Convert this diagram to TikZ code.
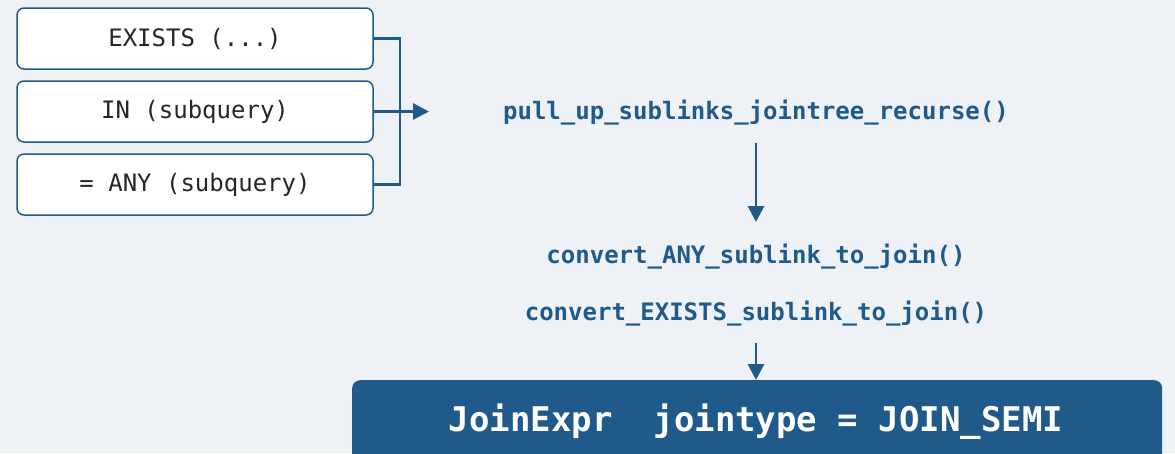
\documentclass[tikz,border=0pt]{standalone}
\usepackage{fontspec}
\setmonofont{DejaVu Sans Mono}
\usetikzlibrary{arrows.meta}
\definecolor{bg}{HTML}{EEF2F6}
\definecolor{navy}{HTML}{1F5A8A}
\tikzset{
  srcbox/.style={draw=navy, line width=1.5pt, fill=white, rounded corners=7pt,
    minimum width=356pt, minimum height=61pt, inner sep=0pt,
    font=\ttfamily\fontsize{24}{28}\selectfont, text=black!85},
  fnlabel/.style={font=\ttfamily\bfseries\fontsize{24}{28}\selectfont, text=navy, inner sep=0pt},
  conn/.style={draw=navy, line width=2.8pt},
  arr/.style={conn, -{Triangle[length=16pt, width=16pt]}},
  result/.style={fill=navy, rounded corners=8pt, minimum width=810pt, minimum height=100pt,
    inner sep=0pt, anchor=north west}
}
\begin{document}
\begin{tikzpicture}[x=1pt, y=-1pt]
\useasboundingbox (0,0) rectangle (1175,453);
\clip (0,0) rectangle (1175,453);
\fill[bg] (0,0) rectangle (1175,453);
\node[srcbox] (ex) at (195,38.5) {EXISTS (...)};
\node[srcbox] (in) at (195,111.5) {IN (subquery)};
\node[srcbox] (any) at (195,184.5) {= ANY (subquery)};
\coordinate (j1) at (400,38.5);
\coordinate (j2) at (400,184.5);
\coordinate (tip) at (429,111.5);
\draw[conn] (ex.east) -- (j1) -- (j2) -- (any.east);
\draw[arr] (in.east) -- (tip);
\node[fnlabel] (pull) at (756,113) {pull\_up\_sublinks\_jointree\_recurse()};
\node[fnlabel] (cany) at (756,257) {convert\_ANY\_sublink\_to\_join()};
\node[fnlabel] (cex) at (756,314) {convert\_EXISTS\_sublink\_to\_join()};
\node[result] (res) at (352,380) {};
\node[font=\ttfamily\bfseries\fontsize{34}{40}\selectfont, text=white, inner sep=0pt] (restext) at (756,422) {JoinExpr\ \ jointype = JOIN\_SEMI};
\coordinate (a1s) at (756,143);
\coordinate (a1e) at (756,222);
\draw[arr] (a1s) -- (a1e);
\coordinate (a2s) at (756,343);
\draw[arr] (a2s) -- (res.north -| a2s);
\end{tikzpicture}
\end{document}
